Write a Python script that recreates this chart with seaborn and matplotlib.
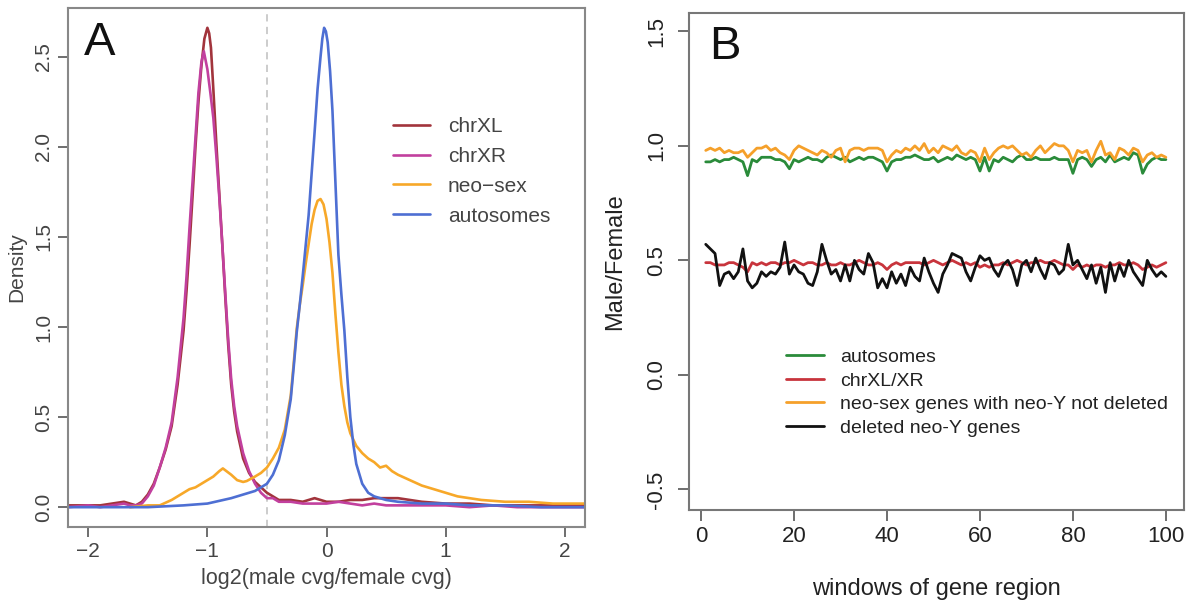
import numpy as np
import pandas as pd
import matplotlib
matplotlib.use("Agg")
import matplotlib.pyplot as plt
import seaborn as sns

# ---------------- Panel A data (density curves) ----------------
xl_x = [-2.17, -2.0, -1.9, -1.8, -1.7, -1.65, -1.6, -1.55, -1.5, -1.45, -1.4, -1.35, -1.3, -1.25,
        -1.2, -1.175, -1.15, -1.125, -1.1, -1.075, -1.05, -1.025, -1.0, -0.985, -0.97, -0.95,
        -0.925, -0.9, -0.875, -0.85, -0.825, -0.8, -0.775, -0.75, -0.7, -0.65, -0.6, -0.55,
        -0.5, -0.45, -0.4, -0.3, -0.2, -0.1, 0.0, 0.1, 0.2, 0.3, 0.4, 0.5, 0.6, 0.7, 0.8, 1.0, 1.2,
        1.4, 1.6, 1.8, 2.0, 2.17]
xl_y = [0.01, 0.01, 0.01, 0.02, 0.03, 0.02, 0.01, 0.03, 0.07, 0.13, 0.22, 0.32, 0.45, 0.68,
        0.98, 1.20, 1.45, 1.72, 2.00, 2.25, 2.45, 2.60, 2.66, 2.63, 2.55, 2.32,
        2.02, 1.74, 1.46, 1.17, 0.90, 0.68, 0.53, 0.42, 0.27, 0.19, 0.14, 0.11,
        0.08, 0.06, 0.04, 0.04, 0.03, 0.05, 0.03, 0.03, 0.04, 0.04, 0.05, 0.05, 0.05, 0.04, 0.03,
        0.02, 0.02, 0.01, 0.01, 0.01, 0.01, 0.01]

xr_x = [-2.17, -2.0, -1.9, -1.8, -1.7, -1.65, -1.6, -1.55, -1.5, -1.45, -1.4, -1.35, -1.3, -1.25,
        -1.2, -1.175, -1.15, -1.125, -1.1, -1.075, -1.05, -1.03, -1.0, -0.975, -0.95,
        -0.925, -0.9, -0.875, -0.85, -0.825, -0.8, -0.775, -0.75, -0.7, -0.65, -0.6, -0.55,
        -0.5, -0.45, -0.4, -0.3, -0.2, -0.1, 0.0, 0.1, 0.2, 0.3, 0.4, 0.5, 0.6, 0.7, 0.8, 1.0, 1.2,
        1.4, 1.6, 1.8, 2.0, 2.17]
xr_y = [0.0, 0.01, 0.0, 0.01, 0.02, 0.01, 0.01, 0.02, 0.06, 0.12, 0.22, 0.33, 0.47, 0.72,
        1.05, 1.28, 1.55, 1.80, 2.05, 2.30, 2.47, 2.53, 2.43, 2.30, 2.16,
        1.95, 1.72, 1.46, 1.19, 0.93, 0.71, 0.56, 0.45, 0.30, 0.20, 0.13, 0.08,
        0.05, 0.05, 0.03, 0.03, 0.02, 0.02, 0.02, 0.03, 0.02, 0.01, 0.02, 0.01, 0.01, 0.01, 0.01,
        0.01, 0.0, 0.01, 0.0, 0.0, 0.0, 0.0]

neo_x = [-1.65, -1.5, -1.4, -1.3, -1.2, -1.15, -1.1, -1.0, -0.95, -0.9, -0.87, -0.8, -0.75, -0.7,
         -0.67, -0.6, -0.55, -0.5, -0.45, -0.4, -0.35, -0.3, -0.275, -0.25, -0.225, -0.2, -0.175,
         -0.15, -0.125, -0.1, -0.075, -0.05, -0.025, 0.0, 0.025, 0.05, 0.075, 0.1, 0.125, 0.15,
         0.175, 0.2, 0.25, 0.3, 0.35, 0.4, 0.45, 0.5, 0.55, 0.6, 0.7, 0.8, 0.9, 1.0,
         1.1, 1.2, 1.3, 1.5, 1.7, 1.9, 2.17]
neo_y = [0.0, 0.01, 0.01, 0.04, 0.08, 0.10, 0.11, 0.15, 0.17, 0.20, 0.215, 0.18, 0.15, 0.14,
         0.145, 0.17, 0.19, 0.22, 0.27, 0.33, 0.43, 0.62, 0.80, 0.99, 1.12, 1.23, 1.35,
         1.46, 1.57, 1.65, 1.70, 1.71, 1.68, 1.60, 1.47, 1.30, 1.07, 0.86, 0.68, 0.56,
         0.47, 0.41, 0.34, 0.30, 0.27, 0.25, 0.22, 0.23, 0.20, 0.18, 0.15, 0.12, 0.10, 0.08,
         0.06, 0.05, 0.04, 0.03, 0.03, 0.02, 0.02]

auto_x = [-2.17, -2.0, -1.5, -1.2, -1.0, -0.8, -0.7, -0.6, -0.55, -0.5, -0.45, -0.4, -0.35, -0.3,
          -0.275, -0.25, -0.225, -0.2, -0.175, -0.15, -0.125, -0.1, -0.075, -0.05, -0.035, -0.02,
          -0.005, 0.01, 0.03, 0.05, 0.075, 0.1, 0.125, 0.15, 0.175, 0.2, 0.225, 0.25, 0.3, 0.35,
          0.4, 0.5, 0.6, 0.8, 1.0, 1.2, 1.5, 1.8, 2.17]
auto_y = [0.0, 0.0, 0.0, 0.01, 0.02, 0.05, 0.07, 0.09, 0.11, 0.13, 0.18, 0.26, 0.40, 0.60,
          0.78, 0.97, 1.12, 1.28, 1.45, 1.62, 1.85, 2.08, 2.32, 2.50, 2.60, 2.66,
          2.64, 2.58, 2.42, 2.20, 1.80, 1.40, 1.18, 0.98, 0.72, 0.50, 0.35, 0.24, 0.13, 0.08,
          0.06, 0.04, 0.03, 0.02, 0.02, 0.01, 0.01, 0.0, 0.0]

a_labels = ["chrXL", "chrXR", "neo\u2212sex", "autosomes"]
a_colors = ["#A2343C", "#C2409E", "#F7A829", "#4E6FD3"]
a_xticks = [-2, -1, 0, 1, 2]
a_yticks = [0.0, 0.5, 1.0, 1.5, 2.0, 2.5]

# ---------------- Panel B data (100 windows) ----------------
windows = list(range(1, 101))
autosomes = [0.93, 0.93, 0.94, 0.93, 0.94, 0.94, 0.95, 0.94, 0.93, 0.87,
             0.94, 0.93, 0.95, 0.95, 0.95, 0.94, 0.94, 0.93, 0.90, 0.94,
             0.93, 0.94, 0.95, 0.94, 0.94, 0.93, 0.95, 0.96, 0.95, 0.94,
             0.95, 0.93, 0.94, 0.95, 0.94, 0.95, 0.95, 0.94, 0.93, 0.89,
             0.93, 0.94, 0.94, 0.95, 0.95, 0.96, 0.95, 0.94, 0.94, 0.95,
             0.93, 0.94, 0.95, 0.94, 0.96, 0.95, 0.94, 0.95, 0.94, 0.89,
             0.95, 0.89, 0.94, 0.93, 0.95, 0.94, 0.93, 0.95, 0.96, 0.94,
             0.94, 0.95, 0.94, 0.94, 0.94, 0.95, 0.94, 0.94, 0.94, 0.88,
             0.94, 0.95, 0.94, 0.91, 0.94, 0.95, 0.93, 0.96, 0.93, 0.94,
             0.95, 0.94, 0.97, 0.96, 0.88, 0.92, 0.94, 0.95, 0.94, 0.94]
chrX = [0.49, 0.49, 0.48, 0.48, 0.48, 0.49, 0.49, 0.48, 0.47, 0.45,
        0.49, 0.48, 0.49, 0.48, 0.49, 0.49, 0.48, 0.49, 0.49, 0.50,
        0.49, 0.48, 0.49, 0.49, 0.48, 0.48, 0.49, 0.48, 0.48, 0.49,
        0.48, 0.48, 0.49, 0.50, 0.49, 0.48, 0.48, 0.49, 0.48, 0.46,
        0.48, 0.49, 0.48, 0.49, 0.49, 0.49, 0.49, 0.48, 0.49, 0.50,
        0.49, 0.48, 0.49, 0.50, 0.49, 0.48, 0.49, 0.48, 0.49, 0.47,
        0.48, 0.47, 0.48, 0.48, 0.49, 0.48, 0.49, 0.50, 0.49, 0.48,
        0.49, 0.49, 0.50, 0.49, 0.49, 0.50, 0.49, 0.48, 0.48, 0.46,
        0.48, 0.47, 0.48, 0.47, 0.48, 0.48, 0.47, 0.48, 0.48, 0.49,
        0.48, 0.48, 0.49, 0.48, 0.46, 0.47, 0.48, 0.47, 0.48, 0.49]
neo_not_deleted = [0.98, 0.99, 0.98, 0.99, 0.97, 0.98, 0.97, 0.97, 0.98, 0.95,
                   0.97, 0.99, 0.99, 1.00, 0.98, 0.99, 0.97, 0.96, 0.94, 0.98,
                   1.00, 0.99, 0.98, 0.97, 0.96, 0.98, 0.97, 0.95, 0.98, 0.99,
                   0.93, 0.98, 0.99, 0.99, 0.98, 0.99, 0.99, 0.99, 0.98, 0.93,
                   0.96, 0.98, 0.97, 0.99, 0.98, 1.00, 0.98, 1.01, 0.97, 0.99,
                   0.97, 1.00, 0.99, 0.98, 1.00, 0.97, 0.96, 0.98, 0.97, 0.93,
                   0.99, 0.94, 0.97, 0.99, 1.00, 0.99, 1.00, 0.98, 0.96, 0.97,
                   0.95, 0.98, 1.00, 0.97, 0.99, 1.01, 1.00, 1.00, 0.98, 0.93,
                   0.98, 0.97, 0.98, 0.93, 0.98, 1.02, 0.96, 0.97, 0.94, 0.99,
                   0.98, 0.96, 0.99, 0.98, 0.93, 0.96, 0.97, 0.95, 0.96, 0.95]
deleted_neoY = [0.57, 0.55, 0.53, 0.39, 0.44, 0.45, 0.42, 0.45, 0.55, 0.41,
                0.38, 0.40, 0.45, 0.43, 0.45, 0.44, 0.47, 0.58, 0.44, 0.48,
                0.45, 0.44, 0.40, 0.39, 0.45, 0.57, 0.50, 0.44, 0.46, 0.41,
                0.48, 0.41, 0.50, 0.46, 0.44, 0.53, 0.49, 0.38, 0.42, 0.38,
                0.45, 0.40, 0.44, 0.39, 0.47, 0.43, 0.41, 0.51, 0.45, 0.40,
                0.36, 0.44, 0.48, 0.53, 0.52, 0.51, 0.45, 0.41, 0.47, 0.52,
                0.50, 0.51, 0.46, 0.43, 0.48, 0.50, 0.46, 0.39, 0.48, 0.50,
                0.45, 0.51, 0.46, 0.42, 0.49, 0.48, 0.44, 0.46, 0.57, 0.48,
                0.50, 0.46, 0.42, 0.48, 0.40, 0.47, 0.36, 0.49, 0.41, 0.48,
                0.43, 0.50, 0.45, 0.42, 0.39, 0.50, 0.46, 0.43, 0.45, 0.43]

b_labels = ["autosomes", "chrXL/XR", "neo-sex genes with neo-Y not deleted", "deleted neo-Y genes"]
b_colors = ["#2A8B3A", "#C8343C", "#F5A02A", "#111111"]
b_xticks = [0, 20, 40, 60, 80, 100]
b_yticks = [-0.5, 0.0, 0.5, 1.0, 1.5]

# ---------------- Drawing ----------------
sns.set_style("ticks")
plt.rcParams["font.family"] = ["Liberation Sans", "DejaVu Sans"]

W, H = 1189, 604
fig = plt.figure(figsize=(W / 100, H / 100), dpi=100)
axA = fig.add_axes([68 / W, 1 - 527 / H, 517 / W, 519 / H])
axB = fig.add_axes([689 / W, 1 - 510 / H, 495 / W, 497 / H])

# Panel A
axA.axvline(-0.5, color="#C8C8C8", lw=1.3, ls=(0, (4, 3)), zorder=1)
for xs, ys, lab, col in zip([xl_x, xr_x, neo_x, auto_x], [xl_y, xr_y, neo_y, auto_y],
                            a_labels, a_colors):
    sns.lineplot(x=xs, y=ys, color=col, lw=1.9, ax=axA, label=lab, sort=False)
axA.set_xlim(-2.17, 2.17)
axA.set_ylim(-0.11, 2.77)
axA.set_xticks(a_xticks)
axA.set_xticklabels(["\u22122", "\u22121", "0", "1", "2"])
axA.set_yticks(a_yticks)
axA.set_yticklabels([f"{v:.1f}" for v in a_yticks])
axA.set_xlabel("log2(male cvg/female cvg)", fontsize=15.5, color="#444444", labelpad=5)
axA.set_ylabel("Density", fontsize=15, color="#444444", labelpad=6)
axA.tick_params(axis="both", labelsize=15, colors="#555555", labelcolor="#444444",
                length=7, width=1.2, direction="out")
axA.tick_params(axis="y", labelrotation=90)
for lbl in axA.get_yticklabels():
    lbl.set_va("center")
for s in axA.spines.values():
    s.set_color("#888888")
    s.set_linewidth(1.5)
axA.text(0.03, 0.975, "A", transform=axA.transAxes, fontsize=34, va="top", ha="left",
         color="#111111")
legA = axA.legend(loc="upper left", bbox_to_anchor=(0.592, 0.826), frameon=False, fontsize=15,
                  handlelength=1.8, handletextpad=0.85, labelspacing=0.52)
for t in legA.get_texts():
    t.set_color("#444444")

# Panel B
for ys, lab, col in zip([autosomes, chrX, neo_not_deleted, deleted_neoY], b_labels, b_colors):
    sns.lineplot(x=windows, y=ys, color=col, lw=2.0, ax=axB, label=lab)
axB.set_xlim(-2.6, 103.9)
axB.set_ylim(-0.59, 1.58)
axB.set_xticks(b_xticks)
axB.set_yticks(b_yticks)
axB.set_yticklabels(["-0.5", "0.0", "0.5", "1.0", "1.5"])
axB.set_xlabel("windows of gene region", fontsize=17, color="#222222", labelpad=22)
axB.set_ylabel("Male/Female", fontsize=17, color="#222222", labelpad=14)
axB.tick_params(axis="both", labelsize=16, colors="#555555", labelcolor="#222222",
                length=8, width=1.2, direction="out")
axB.tick_params(axis="y", labelrotation=90, pad=8)
for lbl in axB.get_yticklabels():
    lbl.set_va("center")
for s in axB.spines.values():
    s.set_color("#777777")
    s.set_linewidth(1.5)
axB.text(0.04, 0.975, "B", transform=axB.transAxes, fontsize=34, va="top", ha="left",
         color="#111111")
legB = axB.legend(loc="upper left", bbox_to_anchor=(0.16, 0.36), frameon=False, fontsize=14,
                  handlelength=1.95, handletextpad=0.85, labelspacing=0.3)
for t in legB.get_texts():
    t.set_color("#222222")

fig.savefig("out.png", dpi=100)
